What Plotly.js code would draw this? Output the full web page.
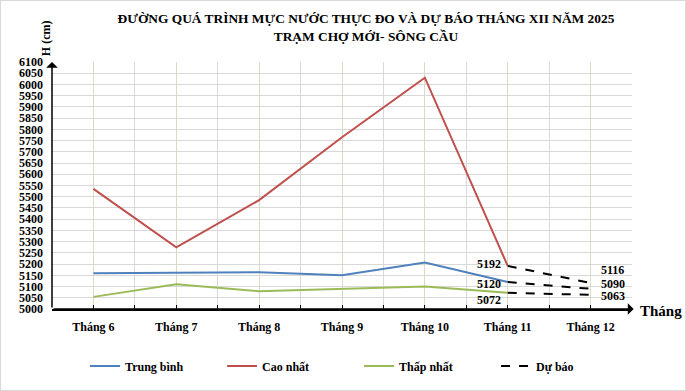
<!DOCTYPE html>
<html>
<head>
<meta charset="utf-8">
<script src="https://cdn.plot.ly/plotly-3.0.1.min.js"></script>
<style>
  html, body { margin: 0; padding: 0; background: #fff; }
  #wrap { position: relative; width: 686px; height: 391px; }
  #chart { width: 686px; height: 391px; }
  #frame { position: absolute; left: 0; top: 0; width: 686px; height: 391px; box-sizing: border-box; border: 1px solid #d9d9d9; pointer-events: none; }
</style>
</head>
<body>
<div id="wrap"><div id="chart"></div><div id="frame"></div></div>
<script>
// ---- data ----
const months = [6, 7, 8, 9, 10, 11, 12];
const monthLabels = ["Tháng 6", "Tháng 7", "Tháng 8", "Tháng 9", "Tháng 10", "Tháng 11", "Tháng 12"];
const observedMonths = [6, 7, 8, 9, 10, 11];
const avgLevel = [5159, 5163, 5164, 5150, 5207, 5120];
const highLevel = [5535, 5275, 5485, 5765, 6030, 5192];
const lowLevel = [5054, 5110, 5079, 5088, 5100, 5072];
const forecastMonths = [11, 12];
const forecastHigh = [5192, 5116];
const forecastAvg = [5120, 5090];
const forecastLow = [5072, 5063];
const seriesNames = ["Trung bình", "Cao nhất", "Thấp nhất", "Dự báo"];

const F = "Liberation Serif";
const colors = { avg: "#4f81bd", high: "#c0504d", low: "#9bbb59", fc: "#000000" };

const traces = [
  { x: observedMonths, y: avgLevel, name: seriesNames[0], mode: "lines", line: { color: colors.avg, width: 2 } },
  { x: observedMonths, y: highLevel, name: seriesNames[1], mode: "lines", line: { color: colors.high, width: 2 } },
  { x: observedMonths, y: lowLevel, name: seriesNames[2], mode: "lines", line: { color: colors.low, width: 2 } },
  { x: forecastMonths, y: forecastHigh, name: seriesNames[3], mode: "lines", line: { color: colors.fc, width: 2, dash: "dash" }, legendgroup: "fc" },
  { x: forecastMonths, y: forecastAvg, name: seriesNames[3], mode: "lines", line: { color: colors.fc, width: 2, dash: "dash" }, legendgroup: "fc", showlegend: false },
  { x: forecastMonths, y: forecastLow, name: seriesNames[3], mode: "lines", line: { color: colors.fc, width: 2, dash: "dash" }, legendgroup: "fc", showlegend: false }
];

function mkFont(size) { return { family: F, size: size, color: "#000", weight: 700 }; }

function lab(x, y, side, yshift) {
  return {
    x: x, y: y, xref: "x", yref: "y", text: String(y), showarrow: false,
    xanchor: side === "left" ? "right" : "left", yanchor: "middle",
    xshift: side === "left" ? -5 : 8, yshift: yshift, font: mkFont(12)
  };
}
const annotations = [
  lab(forecastMonths[0], forecastHigh[0], "left", 2),
  lab(forecastMonths[0], forecastAvg[0], "left", -2),
  lab(forecastMonths[0], forecastLow[0], "left", -7),
  lab(forecastMonths[1], forecastHigh[1], "right", 13),
  lab(forecastMonths[1], forecastAvg[1], "right", 5),
  lab(forecastMonths[1], forecastLow[1], "right", -1),
  { x: 5.5, y: 6100, ax: 5.5, ay: 5000, xref: "x", yref: "y", axref: "x", ayref: "y", text: "", showarrow: true,
    arrowhead: 1, arrowsize: 1.3, arrowwidth: 1.5, arrowcolor: "#000", standoff: 0, startstandoff: 0 },
  { x: 12.52, y: 5000, ax: 5.5, ay: 5000, xref: "x", yref: "y", axref: "x", ayref: "y", text: "", showarrow: true,
    arrowhead: 1, arrowsize: 1.3, arrowwidth: 1.5, arrowcolor: "#000", standoff: 0, startstandoff: 0 },
  { x: -0.011, y: 1.095, xref: "paper", yref: "paper", text: "H (cm)", textangle: -90, showarrow: false,
    xanchor: "center", yanchor: "middle", font: mkFont(12) },
  { x: 1.05, y: -0.01, xref: "paper", yref: "paper", text: "Tháng", showarrow: false,
    xanchor: "center", yanchor: "middle", font: mkFont(15) }
];

const layout = {
  width: 686, height: 391,
  margin: { l: 52, r: 54, t: 62, b: 81 },
  paper_bgcolor: "#fff", plot_bgcolor: "#fff",
  font: mkFont(12),
  title: {
    text: "ĐƯỜNG QUÁ TRÌNH MỰC NƯỚC THỰC ĐO VÀ DỰ BÁO THÁNG XII NĂM 2025<br>TRẠM CHỢ MỚI- SÔNG CẦU",
    font: mkFont(13.4),
    x: 0.5335, xanchor: "center", xref: "container",
    y: 0.94, yanchor: "top", yref: "container"
  },
  xaxis: {
    range: [5.5, 12.5], tickmode: "array", tickvals: months, ticktext: monthLabels,
    showgrid: true, gridcolor: "#ddd9c3", gridwidth: 1,
    ticks: "inside", ticklen: 4, tickcolor: "#000", tickwidth: 1,
    showline: true, linecolor: "#000", linewidth: 1.5,
    tickfont: mkFont(12),
    ticklabelstandoff: 6,
    minor: { tickmode: "linear", tick0: 5.5, dtick: 0.5, showgrid: true, gridcolor: "#d9d9d9", gridwidth: 1,
             ticks: "inside", ticklen: 4, tickcolor: "#000", tickwidth: 1 },
    zeroline: false, fixedrange: true
  },
  yaxis: {
    range: [5000, 6100], dtick: 50, tick0: 5000,
    showgrid: true, gridcolor: "#d9d9d9", gridwidth: 1,
    ticks: "", showline: false, zeroline: false,
    tickfont: mkFont(12),
    ticklabelstandoff: 8, fixedrange: true
  },
  legend: {
    orientation: "h", x: 0.057, xanchor: "left", y: -0.226, yanchor: "middle",
    font: mkFont(12),
    entrywidth: 92, entrywidthmode: "pixels", traceorder: "normal"
  },
  annotations: annotations,
  showlegend: true
};

Plotly.newPlot("chart", traces, layout, { staticPlot: true, displayModeBar: false });
</script>
</body>
</html>
